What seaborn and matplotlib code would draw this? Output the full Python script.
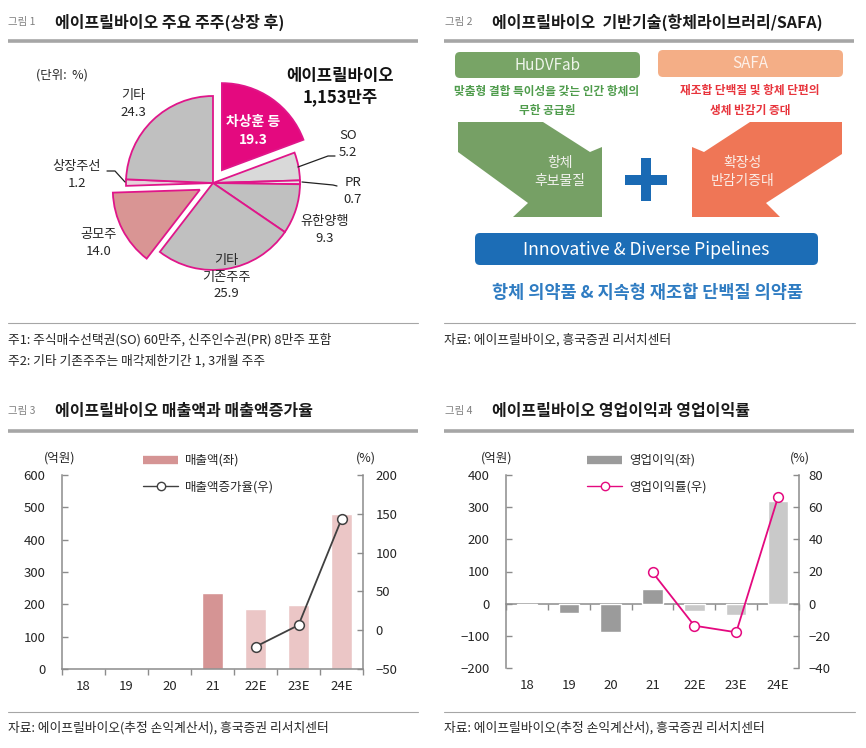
import numpy as np
import pandas as pd
import matplotlib
matplotlib.use('Agg')
import matplotlib.pyplot as plt
from matplotlib.patches import FancyBboxPatch, Polygon, Rectangle
from matplotlib.lines import Line2D
import seaborn as sns

sns.set_theme(style='white')
plt.rcParams['font.family'] = ['Noto Sans CJK KR', 'DejaVu Sans']
plt.rcParams['axes.unicode_minus'] = True

# ---- data ----
holders = ['차상훈 등', 'SO', 'PR', '유한양행', '기타 기존주주', '공모주', '상장주선', '기타']
holder_share = [19.3, 5.2, 0.7, 9.3, 25.9, 14.0, 1.2, 24.3]

years = ['18', '19', '20', '21', '22E', '23E', '24E']
is_estimate = [False, False, False, False, True, True, True]
sales = [0.5, 0.5, 0.0, 236, 186, 198, 479]
growth_years = ['22E', '23E', '24E']
sales_growth = [-21.3, 6.5, 143]
op_profit = [-5, -28, -88, 46, -24, -34, 320]
margin_years = ['21', '22E', '23E', '24E']
op_margin = [19.5, -13.7, -17.8, 66.3]

W, H = 866, 748
GREY_BAR = '#a6a6a6'
SPINE = '#8c8c8c'
TXT = '#262626'
MAGENTA = '#e4097f'


def px(x0, y0, w, h):
    return [x0 / W, 1 - (y0 + h) / H, w / W, h / H]


fig = plt.figure(figsize=(W / 100, H / 100), dpi=100)
deco = fig.add_axes([0, 0, 1, 1])
deco.set_xlim(0, W)
deco.set_ylim(H, 0)
deco.axis('off')
deco.set_zorder(5)


def header(x, y, num, title, xt, bar_x0, bar_x1, bar_y):
    deco.text(x, y, num, fontsize=7.5, color='#808080', va='center')
    deco.text(xt, y, title, fontsize=11.5, fontweight='bold', color='#1a1a1a', va='center')
    deco.plot([bar_x0, bar_x1], [bar_y, bar_y], lw=2.6, color=GREY_BAR, solid_capstyle='butt')


def footer_line(x0, x1, y):
    deco.plot([x0, x1], [y, y], lw=0.8, color=GREY_BAR)


header(8, 22, '그림 1', '에이프릴바이오 주요 주주(상장 후)', 55, 8, 418, 41)
header(445, 22, '그림 2', '에이프릴바이오  기반기술(항체라이브러리/SAFA)', 492, 444, 854, 41)
header(8, 411, '그림 3', '에이프릴바이오 매출액과 매출액증가율', 55, 8, 418, 431)
header(445, 411, '그림 4', '에이프릴바이오 영업이익과 영업이익률', 492, 444, 854, 431)

footer_line(8, 418, 323)
footer_line(444, 855, 323)
footer_line(8, 418, 712)
footer_line(444, 855, 712)

FOOT = 9.2
deco.text(8, 340, '주1: 주식매수선택권(SO) 60만주, 신주인수권(PR) 8만주 포함', fontsize=FOOT, color=TXT, va='center')
deco.text(8, 361, '주2: 기타 기존주주는 매각제한기간 1, 3개월 주주', fontsize=FOOT, color=TXT, va='center')
deco.text(444, 340, '자료: 에이프릴바이오, 흥국증권 리서치센터', fontsize=FOOT, color=TXT, va='center')
deco.text(8, 728, '자료: 에이프릴바이오(추정 손익계산서), 흥국증권 리서치센터', fontsize=FOOT, color=TXT, va='center')
deco.text(444, 728, '자료: 에이프릴바이오(추정 손익계산서), 흥국증권 리서치센터', fontsize=FOOT, color=TXT, va='center')

# ---- panel 1: pie ----
cx, cy, R = 213, 183, 87
half = 130
axp = fig.add_axes(px(cx - half, cy - half, 2 * half, 2 * half))
pie_colors = [MAGENTA, '#d9d9d9', '#e8e8e8', '#c0c0c0', '#c0c0c0', '#d99594', '#e6d3da', '#c0c0c0']
explode = [0.18, 0, 0, 0, 0, 0.17, 0, 0]
axp.pie(holder_share, colors=pie_colors, explode=explode, startangle=90, counterclock=False,
        radius=1, wedgeprops=dict(edgecolor='#e0168a', linewidth=1.3))
lim = half / R
axp.set_xlim(-lim, lim)
axp.set_ylim(-lim, lim)
axp.set_aspect('equal')
axp.axis('off')

deco.text(62, 75, '(단위:  %)', fontsize=9, color=TXT, ha='center', va='center')
deco.text(340, 76, '에이프릴바이오', fontsize=12, fontweight='bold', color='#111', ha='center', va='center')
deco.text(340, 97, '1,153만주', fontsize=12, fontweight='bold', color='#111', ha='center', va='center')

pie_labels = [
    ('기타\n24.3', 133, 104, TXT, 'normal', 9.5),
    ('차상훈 등\n19.3', 253, 131, 'white', 'bold', 10),
    ('SO\n5.2', 348, 144, TXT, 'normal', 9.5),
    ('PR\n0.7', 353, 191, TXT, 'normal', 9.5),
    ('유한양행\n9.3', 325, 230, TXT, 'normal', 9.5),
    ('기타\n기존주주\n25.9', 226, 277, TXT, 'normal', 9.5),
    ('공모주\n14.0', 99, 243, TXT, 'normal', 9.5),
    ('상장주선\n1.2', 77, 175, TXT, 'normal', 9.5),
]
for txt, x, y, c, fw, fs in pie_labels:
    deco.text(x, y, txt, fontsize=fs, color=c, fontweight=fw, ha='center', va='center',
              linespacing=1.35)
deco.plot([298, 328, 335], [167, 156, 156], color='#222', lw=0.9)
deco.plot([302, 333, 337], [182, 185, 186], color='#222', lw=0.9)
deco.plot([107, 115, 125], [171, 171, 182], color='#222', lw=0.9)

# ---- panel 2: diagram ----
deco.add_patch(FancyBboxPatch((455, 52), 185, 26, boxstyle='round,pad=0,rounding_size=5',
                              fc='#78a466', ec='none'))
deco.add_patch(FancyBboxPatch((658, 50), 185, 27, boxstyle='round,pad=0,rounding_size=5',
                              fc='#f4ae86', ec='none'))
deco.text(547, 65, 'HuDVFab', fontsize=11, color='#eef4ea', ha='center', va='center')
deco.text(750, 63, 'SAFA', fontsize=11, color='#fdf0e8', ha='center', va='center')
SUB = 8.4
deco.text(547, 91, '맞춤형 결합 특이성을 갖는 인간 항체의', fontsize=SUB, fontweight='bold',
          color='#4f9c4c', ha='center', va='center')
deco.text(547, 110, '무한 공급원', fontsize=SUB, fontweight='bold', color='#4f9c4c', ha='center', va='center')
deco.text(750, 90, '재조합 단백질 및 항체 단편의', fontsize=SUB, fontweight='bold',
          color='#e8343c', ha='center', va='center')
deco.text(750, 110, '생체 반감기 증대', fontsize=SUB, fontweight='bold', color='#e8343c', ha='center', va='center')

green_arrow = [(458, 122), (543, 122), (590, 152), (602, 147), (602, 217), (513, 217), (528, 203), (458, 152)]
orange_arrow = [(842, 122), (750, 122), (704, 152), (692, 147), (692, 217), (780, 217), (766, 203), (842, 154)]
deco.add_patch(Polygon(green_arrow, closed=True, fc='#76a065', ec='none', joinstyle='round'))
deco.add_patch(Polygon(orange_arrow, closed=True, fc='#ef7656', ec='none', joinstyle='round'))
deco.text(560, 172, '항체\n후보물질', fontsize=10, color='#f2f2ee', ha='center', va='center', linespacing=1.45)
deco.text(743, 172, '확장성\n반감기증대', fontsize=10, color='#fbeee8', ha='center', va='center', linespacing=1.45)

deco.add_patch(Rectangle((625, 175), 42, 10, fc='#1a6ab4', ec='none'))
deco.add_patch(Rectangle((641, 158), 10, 43, fc='#1a6ab4', ec='none'))

deco.add_patch(FancyBboxPatch((475, 233), 343, 32, boxstyle='round,pad=0,rounding_size=5',
                              fc='#1c6db6', ec='none'))
deco.text(646, 250, 'Innovative & Diverse Pipelines', fontsize=12.7, color='white', ha='center', va='center')
deco.text(647, 293, '항체 의약품 & 지속형 재조합 단백질 의약품', fontsize=12.6, fontweight='bold',
          color='#2f7cc2', ha='center', va='center')


# ---- bar + line panels ----
def style_axes(ax, axr, ylim, yticks, rlim, rticks, lpad, rpad):
    ax.set_ylim(*ylim)
    ax.set_yticks(yticks)
    ax.set_xlim(-0.5, len(years) - 0.5)
    ax.set_xlabel('')
    ax.set_ylabel('')
    ax.set_facecolor('none')
    for s in ['top', 'right']:
        ax.spines[s].set_visible(False)
    ax.spines['left'].set_color(SPINE)
    ax.spines['left'].set_linewidth(1.1)
    ax.tick_params(axis='y', left=True, direction='in', length=4, width=1, color=SPINE,
                   pad=lpad, labelsize=9.5, labelcolor=TXT)
    ax.tick_params(axis='x', which='major', bottom=False, length=0, pad=8, labelsize=9.5, labelcolor=TXT)
    axr.set_ylim(*rlim)
    axr.set_yticks(rticks)
    axr.set_xlim(-0.5, len(years) - 0.5)
    axr.set_ylabel('')
    for s in ['top', 'left', 'bottom']:
        axr.spines[s].set_visible(False)
    axr.spines['right'].set_color(SPINE)
    axr.spines['right'].set_linewidth(1.1)
    axr.tick_params(axis='y', right=True, direction='in', length=4, width=1, color=SPINE,
                    pad=rpad, labelsize=9.5, labelcolor=TXT)
    axr.grid(False)
    ax.grid(False)


kind = ['E' if e else 'A' for e in is_estimate]
bounds = np.arange(-0.5, len(years), 1)

# panel 3
ax3 = fig.add_axes(px(62, 475, 301, 194))
df3 = pd.DataFrame({'year': years, 'sales': sales, 'kind': kind})
pal3 = {'A': '#d59494', 'E': '#ebc6c6'}
sns.barplot(data=df3, x='year', y='sales', hue='kind', palette=pal3, dodge=False, width=0.48,
            saturation=1, legend=False, ax=ax3)
ax3b = ax3.twinx()
sns.lineplot(x=[years.index(y) for y in growth_years], y=sales_growth, ax=ax3b, color='#404040',
             lw=1.3, marker='o', markersize=7, markerfacecolor='white', markeredgecolor='#404040',
             markeredgewidth=1.1)
style_axes(ax3, ax3b, (0, 600), range(0, 601, 100), (-50, 200), range(-50, 201, 50), 12, 9)
ax3.spines['bottom'].set_color(SPINE)
ax3.spines['bottom'].set_linewidth(1.1)
ax3.set_xticks(bounds, minor=True)
ax3.tick_params(axis='x', which='minor', bottom=True, direction='out', length=4, width=1, color=SPINE)

deco.text(60, 458, '(억원)', fontsize=9, color=TXT, ha='center', va='center')
deco.text(366, 458, '(%)', fontsize=9, color=TXT, ha='center', va='center')
h3 = [Line2D([], [], color=pal3['A'], lw=6, solid_capstyle='butt'),
      Line2D([], [], color='#404040', lw=1.0, marker='o', markersize=6, markerfacecolor='white',
             markeredgecolor='#404040')]
fig.legend(h3, ['매출액(좌)', '매출액증가율(우)'], loc='upper left', bbox_to_anchor=(143 / W, 1 - 454 / H),
           frameon=False, fontsize=9, handlelength=2.8, handletextpad=0.55, labelspacing=1.05,
           borderpad=0, borderaxespad=0, labelcolor=TXT)

# panel 4
ax4 = fig.add_axes(px(506, 475, 293, 193))
df4 = pd.DataFrame({'year': years, 'op': op_profit, 'kind': kind})
pal4 = {'A': '#9b9b9b', 'E': '#c9c9c9'}
sns.barplot(data=df4, x='year', y='op', hue='kind', palette=pal4, dodge=False, width=0.49,
            saturation=1, legend=False, ax=ax4)
ax4b = ax4.twinx()
sns.lineplot(x=[years.index(y) for y in margin_years], y=op_margin, ax=ax4b, color=MAGENTA,
             lw=1.3, marker='o', markersize=7, markerfacecolor='white', markeredgecolor=MAGENTA,
             markeredgewidth=1.1)
style_axes(ax4, ax4b, (-200, 400), range(-200, 401, 100), (-40, 80), range(-40, 81, 20), 12, 7)
ax4.spines['bottom'].set_visible(False)
zero = ax4.secondary_xaxis(200 / 600)
zero.set_xticks(bounds)
zero.tick_params(axis='x', bottom=True, direction='out', length=4, width=1, color=SPINE, labelbottom=False)
zero.spines['bottom'].set_color(SPINE)
zero.spines['bottom'].set_linewidth(1.1)

deco.text(497, 458, '(억원)', fontsize=9, color=TXT, ha='center', va='center')
deco.text(800, 458, '(%)', fontsize=9, color=TXT, ha='center', va='center')
h4 = [Line2D([], [], color=pal4['A'], lw=6, solid_capstyle='butt'),
      Line2D([], [], color=MAGENTA, lw=1.0, marker='o', markersize=6, markerfacecolor='white',
             markeredgecolor=MAGENTA)]
fig.legend(h4, ['영업이익(좌)', '영업이익률(우)'], loc='upper left', bbox_to_anchor=(587 / W, 1 - 454 / H),
           frameon=False, fontsize=9, handlelength=2.8, handletextpad=0.55, labelspacing=1.05,
           borderpad=0, borderaxespad=0, labelcolor=TXT)

fig.savefig('out.png', dpi=100)
